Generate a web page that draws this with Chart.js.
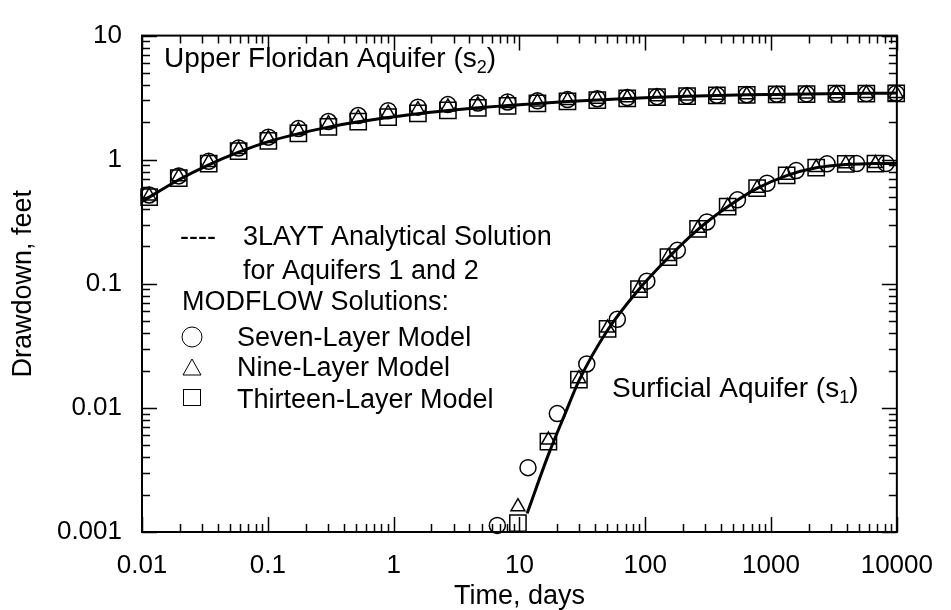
<!DOCTYPE html>
<html>
<head>
<meta charset="utf-8">
<script src="https://cdn.jsdelivr.net/npm/chart.js@4.4.1/dist/chart.umd.min.js"></script>
<style>
  html, body { margin: 0; padding: 0; background: #fff; }
  #wrap { width: 951px; height: 610px; }
</style>
</head>
<body>
<div id="wrap"><canvas id="chart"></canvas></div>
<script>
const xTicks = [0.01, 0.1, 1, 10, 100, 1000, 10000];
const xTickLabels = ["0.01", "0.1", "1", "10", "100", "1000", "10000"];
const yTicks = [0.001, 0.01, 0.1, 1, 10];
const yTickLabels = ["0.001", "0.01", "0.1", "1", "10"];

// Upper Floridan aquifer (s2), MODFLOW output times (days)
const upperTimes = [0.0114, 0.0196, 0.0339, 0.0586, 0.101, 0.175, 0.303, 0.523, 0.904, 1.56, 2.70, 4.67, 8.05,
                    13.9, 24.1, 41.6, 71.9, 124, 215, 371, 641, 1109, 1915, 3311, 5720, 9880];
const upperSeven = [0.52, 0.74, 0.97, 1.24, 1.52, 1.78, 2.03, 2.27, 2.48, 2.65, 2.78, 2.86, 2.92,
                    2.98, 3.05, 3.10, 3.17, 3.22, 3.27, 3.31, 3.34, 3.37, 3.39, 3.40, 3.41, 3.42];
const upperNine = [0.51, 0.73, 0.95, 1.21, 1.48, 1.72, 1.95, 2.17, 2.37, 2.53, 2.66, 2.76, 2.84,
                   2.92, 3.00, 3.07, 3.15, 3.21, 3.26, 3.30, 3.33, 3.36, 3.38, 3.40, 3.41, 3.42];
const upperThirteen = [0.50, 0.71, 0.93, 1.17, 1.42, 1.63, 1.84, 2.03, 2.20, 2.36, 2.50, 2.62, 2.72,
                       2.84, 2.95, 3.02, 3.12, 3.19, 3.25, 3.30, 3.33, 3.36, 3.38, 3.40, 3.41, 3.42];
// 3LAYT analytical solution, aquifer 2
const upperLineTimes = [0.01, 0.0196, 0.0339, 0.0586, 0.101, 0.175, 0.303, 0.523, 0.904, 1.56, 2.70, 4.67, 8.05,
                        13.9, 24.1, 41.6, 71.9, 124, 215, 371, 641, 1109, 1915, 3311, 5720, 10000];
const upperLine = [0.46, 0.69, 0.91, 1.15, 1.40, 1.62, 1.83, 2.02, 2.19, 2.35, 2.49, 2.62, 2.73,
                   2.84, 2.94, 3.03, 3.11, 3.18, 3.24, 3.29, 3.33, 3.36, 3.39, 3.41, 3.43, 3.44];

// Surficial aquifer (s1)
const surfSevenTimes = [6.67, 11.7, 20.0, 34.3, 60, 103, 180, 309, 541, 929, 1585, 2786, 4786, 8200];
const surfSeven = [0.00113, 0.0033, 0.0090, 0.0226, 0.0518, 0.105, 0.186, 0.315, 0.475, 0.646, 0.817, 0.926, 0.93, 0.93];
const surfTimes = [9.73, 17.0, 29.7, 50.2, 89.2, 153, 263, 452, 775, 1331, 2285, 3926, 6761];
const surfNine = [0.0016, 0.0055, 0.0172, 0.044, 0.092, 0.166, 0.28, 0.42, 0.59, 0.75, 0.865, 0.928, 0.93];
const surfThirteen = [0.00118, 0.00535, 0.0169, 0.0433, 0.0906, 0.164, 0.277, 0.419, 0.59, 0.746, 0.862, 0.926, 0.93];
// 3LAYT analytical solution, aquifer 1
const surfLineTimes = [11.5, 17, 23, 29.7, 50, 89, 153, 263, 452, 775, 1331, 2285, 3926, 6761, 10000];
const surfLine = [0.00141, 0.0042, 0.0089, 0.0165, 0.042, 0.090, 0.163, 0.275, 0.418, 0.588, 0.745, 0.86, 0.915, 0.93, 0.935];

const FONT = '"Liberation Sans", Arial, sans-serif';

function pts(xs, ys) {
  return xs.map((t, i) => ({ x: t, y: ys[i] }));
}

function lineSet(data) {
  return { data: data, showLine: true, borderColor: '#000', borderWidth: 3, pointRadius: 0, fill: false,
           cubicInterpolationMode: 'monotone', clip: false };
}

function markerSet(data, style, radius) {
  return { data: data, showLine: false, pointStyle: style, pointRadius: radius, pointBorderWidth: 1.5,
           pointBorderColor: '#000', pointBackgroundColor: 'rgba(0,0,0,0)', clip: false };
}

function drawSub(ctx, x, y, main, sub, tail, size) {
  ctx.font = size + 'px ' + FONT;
  ctx.fillText(main, x, y);
  x += ctx.measureText(main).width;
  ctx.font = Math.round(size * 0.65) + 'px ' + FONT;
  ctx.fillText(sub, x, y + 6);
  x += ctx.measureText(sub).width;
  ctx.font = size + 'px ' + FONT;
  ctx.fillText(tail, x, y);
}

const framePlugin = {
  id: 'frame',
  afterDatasetsDraw(chart) {
    const { ctx, chartArea: a, scales: { x, y } } = chart;
    ctx.save();
    ctx.strokeStyle = '#000';
    ctx.lineWidth = 1.5;
    ctx.beginPath();
    for (let e = -2; e <= 4; e++) {
      for (let m = 1; m <= 9; m++) {
        const v = m * Math.pow(10, e);
        if (v > 10000) break;
        const px = Math.round(x.getPixelForValue(v)) + 0.5;
        const len = m === 1 ? 15 : 8;
        ctx.moveTo(px, a.bottom); ctx.lineTo(px, a.bottom - len);
        ctx.moveTo(px, a.top); ctx.lineTo(px, a.top + len);
      }
    }
    for (let e = -3; e <= 1; e++) {
      for (let m = 1; m <= 9; m++) {
        const v = m * Math.pow(10, e);
        if (v > 10) break;
        const py = Math.round(y.getPixelForValue(v)) + 0.5;
        const len = m === 1 ? 15 : 8;
        ctx.moveTo(a.left, py); ctx.lineTo(a.left + len, py);
        ctx.moveTo(a.right, py); ctx.lineTo(a.right - len, py);
      }
    }
    ctx.stroke();
    ctx.lineWidth = 2;
    ctx.strokeRect(a.left, a.top, a.right - a.left, a.bottom - a.top);

    // curve labels
    ctx.fillStyle = '#000';
    ctx.textBaseline = 'alphabetic';
    ctx.textAlign = 'left';
    drawSub(ctx, 164, 67, 'Upper Floridan Aquifer (s', '2', ')', 28);
    drawSub(ctx, 612, 397, 'Surficial Aquifer (s', '1', ')', 28);

    // legend
    ctx.font = '27px ' + FONT;
    ctx.fillText('----', 180, 245);
    ctx.fillText('3LAYT Analytical Solution', 243, 245);
    ctx.fillText('for Aquifers 1 and 2', 243, 279);
    ctx.fillText('MODFLOW Solutions:', 182, 310);
    ctx.fillText('Seven-Layer Model', 237, 346);
    ctx.fillText('Nine-Layer Model', 237, 376);
    ctx.fillText('Thirteen-Layer Model', 237, 408);
    ctx.lineWidth = 1;
    ctx.beginPath();
    ctx.arc(192, 337, 10, 0, Math.PI * 2);
    ctx.stroke();
    ctx.beginPath();
    ctx.moveTo(183, 375); ctx.lineTo(201, 375); ctx.lineTo(192, 359); ctx.closePath();
    ctx.stroke();
    ctx.strokeRect(183.5, 389.5, 17, 16);
    ctx.restore();
  }
};

new Chart(document.getElementById('chart'), {
  type: 'scatter',
  data: {
    datasets: [
      lineSet(pts(upperLineTimes, upperLine)),
      lineSet(pts(surfLineTimes, surfLine)),
      markerSet(pts(upperTimes, upperSeven), 'circle', 8),
      markerSet(pts(upperTimes, upperNine), 'triangle', 8),
      markerSet(pts(upperTimes, upperThirteen), 'rect', 11.5),
      markerSet(pts(surfSevenTimes, surfSeven), 'circle', 8),
      markerSet(pts(surfTimes, surfNine), 'triangle', 8),
      markerSet(pts(surfTimes, surfThirteen), 'rect', 11.5)
    ]
  },
  options: {
    responsive: true,
    maintainAspectRatio: false,
    animation: false,
    layout: { padding: { top: 21, right: 42, bottom: 0, left: 0 } },
    plugins: { legend: { display: false }, tooltip: { enabled: false } },
    scales: {
      x: {
        type: 'logarithmic',
        min: 0.01,
        max: 10000,
        grid: { display: false, drawTicks: false },
        border: { display: false },
        afterBuildTicks: s => { s.ticks = xTicks.map(v => ({ value: v })); },
        afterFit: s => { s.height = 78; },
        ticks: {
          autoSkip: false, maxRotation: 0, padding: 18, color: '#000',
          font: { family: FONT, size: 26 },
          callback: v => { const i = xTicks.indexOf(v); return i >= 0 ? xTickLabels[i] : ''; }
        },
        title: { display: true, text: 'Time, days', color: '#000', font: { family: FONT, size: 27 },
                 padding: { top: 0, bottom: -3 } }
      },
      y: {
        type: 'logarithmic',
        min: 0.001,
        max: 10,
        grid: { display: false, drawTicks: false },
        border: { display: false },
        afterBuildTicks: s => { s.ticks = yTicks.map(v => ({ value: v })); },
        afterFit: s => { s.width = 142; },
        ticks: {
          autoSkip: false, padding: 20, color: '#000',
          font: { family: FONT, size: 26 },
          callback: v => { const i = yTicks.indexOf(v); return i >= 0 ? yTickLabels[i] : ''; }
        },
        title: { display: true, text: 'Drawdown, feet', color: '#000', font: { family: FONT, size: 27 },
                 padding: { top: 7, bottom: 0 } }
      }
    }
  },
  plugins: [framePlugin]
});
</script>
</body>
</html>
